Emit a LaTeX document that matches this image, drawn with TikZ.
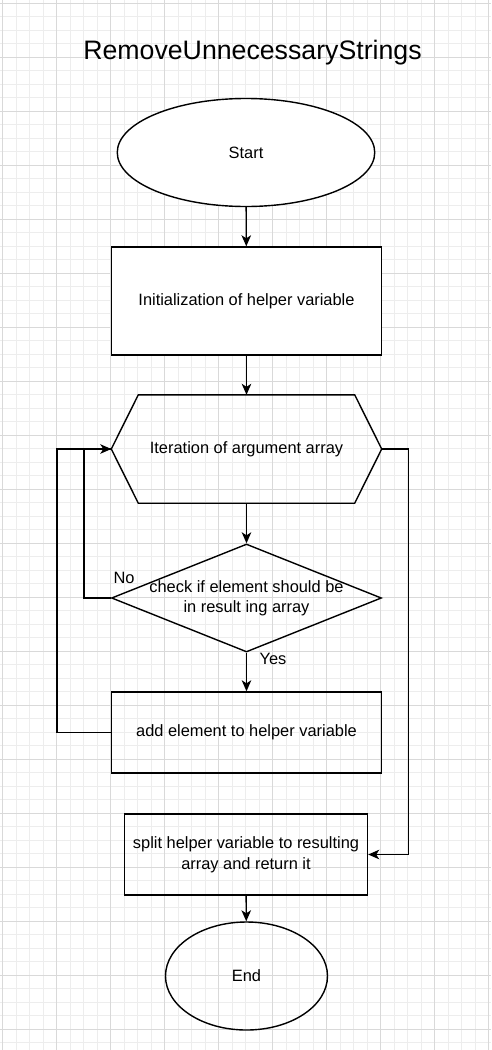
\documentclass[tikz,border=0pt]{standalone}
\usepackage{fontspec}
\setmainfont{Liberation Sans}
\usetikzlibrary{shapes.geometric,arrows.meta,calc}
\begin{document}
\begin{tikzpicture}[x=1pt,y=-1pt,
  line/.style={line width=1.4pt,draw=black},
  arr/.style={line, -{Stealth[length=11pt,width=9.5pt,inset=3pt]}},
  txt/.style={font=\fontsize{16.4}{20.5}\selectfont, align=center},
  boxnode/.style={draw, line width=1.4pt, rectangle, inner sep=0pt, txt},
  ellnode/.style={draw, line width=1.4pt, ellipse, inner sep=0pt, txt},
]
\useasboundingbox (0,0) rectangle (491,1050);
\fill[white] (0,0) rectangle (491,1050);
% grid
\foreach \i in {0,...,36} {
  \draw[line width=0.6pt, draw=black!7] ({2.3+13.5*\i},0) -- ({2.3+13.5*\i},1050);
}
\foreach \j in {0,...,77} {
  \draw[line width=0.6pt, draw=black!7] (0,{3+13.5*\j}) -- (491,{3+13.5*\j});
}
\foreach \i in {0,...,9} {
  \draw[line width=0.6pt, draw=black!15] ({2.3+54*\i},0) -- ({2.3+54*\i},1050);
}
\foreach \j in {0,...,19} {
  \draw[line width=0.6pt, draw=black!15] (0,{3+54*\j}) -- (491,{3+54*\j});
}

% title
\node[font=\fontsize{26.7}{30}\selectfont] (title) at (252.5,52.5) {RemoveUnnecessaryStrings};

% nodes
\node[ellnode, fill=white, minimum width=257.5pt, minimum height=108pt] (start) at (246,152.5) {Start};
\node[boxnode, fill=white, minimum width=270pt, minimum height=108pt] (init) at (246.5,301) {Initialization of helper variable};
\node[inner sep=0pt, minimum width=270pt, minimum height=108pt, txt] (hex) at (246.5,449) {Iteration of argument array};
\draw[line] (hex.west) -- ($(hex.north west)+(27,0)$) -- ($(hex.north east)+(-27,0)$) -- (hex.east)
  -- ($(hex.south east)+(-27,0)$) -- ($(hex.south west)+(27,0)$) -- cycle;
\node[diamond, draw, line width=1.4pt, inner sep=0pt, aspect=2.5, minimum width=270pt, minimum height=108pt,
  label={[txt]center:check if element should be\\in result ing array}] (dia) at (246.5,598) {};
\node[boxnode, minimum width=270pt, minimum height=81pt] (add) at (246.5,732.5) {add element to helper variable};
\node[boxnode, minimum width=243pt, minimum height=81pt] (split) at (246,854.5) {split helper variable to resulting\\array and return it};
\node[ellnode, minimum width=162pt, minimum height=108pt] (end) at (246.5,976) {End};

% labels
\node[txt, inner sep=0pt] (no) at (124,577.5) {No};
\node[txt, inner sep=0pt] (yes) at (273,658.5) {Yes};

% connectors
\draw[arr] (start) -- (init);
\draw[arr] (init) -- (hex);
\draw[arr] (hex) -- (dia.north);
\draw[arr] (dia.south) -- (add);
\draw[line] (add.west) -- ++(-54,0) |- (hex.west);
\draw[arr] (dia.west) -- ++(-27,0) |- (hex.west);
\draw[arr] (hex.east) -- ++(26.5,0) |- (split.east);
\draw[arr] (split) -- (end);
\end{tikzpicture}
\end{document}
